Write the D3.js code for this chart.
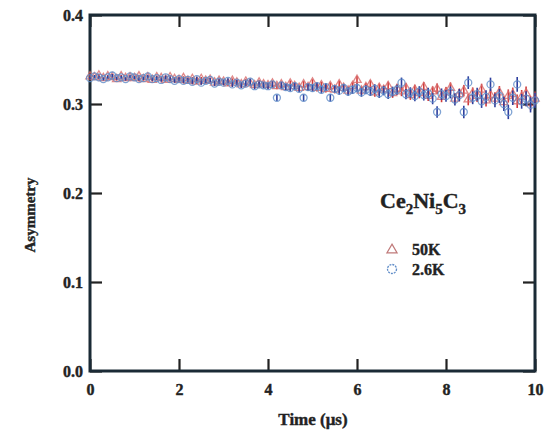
<!DOCTYPE html>
<html>
<head>
<meta charset="utf-8">
<script src="https://cdn.jsdelivr.net/npm/d3@7"></script>
<style>
  body { margin: 0; background: #fff; }
  svg { display: block; }
  text { font-family: "Liberation Serif", "Times New Roman", serif; font-weight: bold; fill: #222; stroke: #222; stroke-width: 0.4; }
</style>
</head>
<body>
<script>
'use strict';

// time points 0 .. 10 us, step 0.1
var times = d3.range(101).map(function(i) { return i / 10; });

var asym50K = [
	0.331,0.330,0.332,0.329,0.331,0.330,0.328,0.331,0.329,0.330,
	0.329,0.331,0.328,0.330,0.327,0.330,0.329,0.327,0.330,0.328,
	0.327,0.329,0.326,0.328,0.325,0.328,0.326,0.327,0.324,0.326,
	0.325,0.323,0.326,0.324,0.322,0.325,0.323,0.321,0.324,0.322,
	0.321,0.323,0.320,0.322,0.319,0.323,0.320,0.318,0.322,0.319,
	0.324,0.318,0.321,0.317,0.320,0.316,0.322,0.318,0.315,0.320,
	0.327,0.315,0.319,0.322,0.313,0.318,0.316,0.320,0.312,0.317,
	0.314,0.318,0.310,0.316,0.312,0.319,0.309,0.314,0.317,0.308,
	0.313,0.318,0.306,0.311,0.315,0.305,0.312,0.309,0.316,0.304,
	0.310,0.306,0.313,0.302,0.309,0.311,0.303,0.308,0.312,0.301,
	0.306
];
var err50K = [
	0.0015,0.0015,0.0016,0.0015,0.0016,0.0016,0.0017,0.0016,0.0017,0.0017,
	0.0018,0.0018,0.0019,0.0018,0.0019,0.0020,0.0019,0.0020,0.0021,0.0021,
	0.0022,0.0022,0.0023,0.0023,0.0024,0.0024,0.0025,0.0025,0.0026,0.0026,
	0.0027,0.0027,0.0028,0.0028,0.0029,0.0029,0.0030,0.0030,0.0031,0.0031,
	0.0032,0.0032,0.0033,0.0034,0.0034,0.0035,0.0035,0.0036,0.0037,0.0037,
	0.0038,0.0039,0.0039,0.0040,0.0041,0.0041,0.0042,0.0043,0.0043,0.0044,
	0.0045,0.0046,0.0046,0.0047,0.0048,0.0049,0.0049,0.0050,0.0051,0.0052,
	0.0052,0.0053,0.0054,0.0055,0.0056,0.0056,0.0057,0.0058,0.0059,0.0060,
	0.0061,0.0062,0.0062,0.0063,0.0064,0.0065,0.0066,0.0067,0.0068,0.0069,
	0.0070,0.0071,0.0072,0.0073,0.0074,0.0075,0.0076,0.0077,0.0078,0.0079,
	0.0080
];
var asym2K = [
	0.329,0.331,0.330,0.328,0.330,0.332,0.329,0.330,0.328,0.331,
	0.330,0.328,0.329,0.331,0.328,0.329,0.327,0.330,0.328,0.326,
	0.328,0.326,0.327,0.325,0.328,0.324,0.326,0.327,0.323,0.325,
	0.324,0.326,0.322,0.324,0.321,0.323,0.325,0.320,0.322,0.321,
	0.320,0.322,0.307,0.321,0.319,0.318,0.320,0.317,0.307,0.319,
	0.318,0.320,0.316,0.319,0.307,0.317,0.315,0.318,0.314,0.316,
	0.318,0.313,0.316,0.314,0.317,0.312,0.315,0.311,0.314,0.316,
	0.324,0.311,0.313,0.309,0.314,0.310,0.312,0.306,0.291,0.311,
	0.309,0.313,0.305,0.310,0.291,0.324,0.307,0.311,0.303,0.308,
	0.322,0.304,0.309,0.300,0.291,0.307,0.322,0.303,0.306,0.299,
	0.304
];
var err2K = [
	0.0016,0.0016,0.0017,0.0016,0.0017,0.0017,0.0018,0.0017,0.0018,0.0018,
	0.0019,0.0019,0.0020,0.0019,0.0020,0.0021,0.0020,0.0021,0.0022,0.0022,
	0.0023,0.0023,0.0024,0.0024,0.0025,0.0025,0.0026,0.0026,0.0027,0.0027,
	0.0028,0.0028,0.0029,0.0029,0.0030,0.0031,0.0031,0.0032,0.0032,0.0033,
	0.0034,0.0034,0.0035,0.0036,0.0036,0.0037,0.0038,0.0038,0.0039,0.0040,
	0.0040,0.0041,0.0042,0.0043,0.0043,0.0044,0.0045,0.0046,0.0046,0.0047,
	0.0048,0.0049,0.0050,0.0050,0.0051,0.0052,0.0053,0.0054,0.0055,0.0056,
	0.0057,0.0058,0.0058,0.0059,0.0060,0.0061,0.0062,0.0063,0.0064,0.0065,
	0.0066,0.0067,0.0068,0.0069,0.0070,0.0071,0.0072,0.0073,0.0074,0.0075,
	0.0076,0.0077,0.0078,0.0079,0.0080,0.0081,0.0082,0.0083,0.0084,0.0085,
	0.0086
];

var xTicks = [0, 2, 4, 6, 8, 10];
var yTicks = [0.0, 0.1, 0.2, 0.3, 0.4];

(function() {
	var width = 552, height = 431;
	var plotLeft = 90, plotRight = 535, plotTop = 15, plotBottom = 371;

	var svg = d3.select('body').append('svg')
		.attr('width', width).attr('height', height);

	var x = d3.scaleLinear().domain([0, 10]).range([plotLeft, plotRight]);
	var y = d3.scaleLinear().domain([0, 0.4]).range([plotBottom, plotTop]);

	var tickLen = 12;

	// axes: bottom / left with labels, top / right ticks only
	svg.append('g')
		.attr('transform', 'translate(0,' + plotBottom + ')')
		.call(d3.axisBottom(x).tickValues(xTicks).tickSize(-tickLen).tickPadding(13)
			.tickFormat(d3.format('d')))
		.call(function(g) {
			g.select('.domain').remove();
			g.selectAll('text').attr('font-size', 16).attr('font-family', 'Liberation Serif');
		});
	svg.append('g')
		.attr('transform', 'translate(' + plotLeft + ',0)')
		.call(d3.axisLeft(y).tickValues(yTicks).tickSize(-tickLen).tickPadding(7)
			.tickFormat(d3.format('.1f')))
		.call(function(g) {
			g.select('.domain').remove();
			g.selectAll('text').attr('font-size', 16).attr('font-family', 'Liberation Serif');
		});
	svg.append('g')
		.attr('transform', 'translate(0,' + plotTop + ')')
		.call(d3.axisTop(x).tickValues(xTicks).tickSize(-tickLen).tickFormat(''))
		.call(function(g) { g.select('.domain').remove(); });
	svg.append('g')
		.attr('transform', 'translate(' + plotRight + ',0)')
		.call(d3.axisRight(y).tickValues(yTicks).tickSize(-tickLen).tickFormat(''))
		.call(function(g) { g.select('.domain').remove(); });

	svg.selectAll('.tick line').attr('stroke', '#222').attr('stroke-width', 2.2);

	// frame
	svg.append('rect')
		.attr('x', plotLeft).attr('y', plotTop)
		.attr('width', plotRight - plotLeft).attr('height', plotBottom - plotTop)
		.attr('fill', 'none').attr('stroke', '#1a2a35').attr('stroke-width', 3);

	function series(vals, errs) {
		return times.map(function(t, i) { return {t: t, v: vals[i], e: errs[i]}; });
	}

	var triangle = d3.symbol().type(d3.symbolTriangle).size(30);

	function drawSeries(data, barColor, markColor, shape) {
		var g = svg.append('g');
		g.selectAll('line.eb').data(data).enter().append('line')
			.attr('x1', function(d) { return x(d.t); })
			.attr('x2', function(d) { return x(d.t); })
			.attr('y1', function(d) { return y(d.v - d.e); })
			.attr('y2', function(d) { return y(d.v + d.e); })
			.attr('stroke', barColor).attr('stroke-width', 1.6);
		if (shape === 'circle') {
			g.selectAll('circle').data(data).enter().append('circle')
				.attr('cx', function(d) { return x(d.t); })
				.attr('cy', function(d) { return y(d.v); })
				.attr('r', 3.5)
				.attr('fill', 'none').attr('stroke', markColor).attr('stroke-width', 1.3)
				.attr('opacity', 0.8);
		} else {
			g.selectAll('path').data(data).enter().append('path')
				.attr('d', triangle)
				.attr('transform', function(d) { return 'translate(' + x(d.t) + ',' + y(d.v) + ')'; })
				.attr('fill', 'none').attr('stroke', markColor).attr('stroke-width', 1.3)
				.attr('opacity', 0.8);
		}
	}

	drawSeries(series(asym50K, err50K), '#d03a3a', '#d86a6a', 'triangle');
	drawSeries(series(asym2K, err2K), '#2d3f9e', '#5f8cc8', 'circle');

	// legend
	var title = svg.append('text').attr('x', 380).attr('y', 208).attr('font-size', 22);
	title.append('tspan').text('Ce');
	title.append('tspan').attr('dy', 6).attr('font-size', 15).text('2');
	title.append('tspan').attr('dy', -6).text('Ni');
	title.append('tspan').attr('dy', 6).attr('font-size', 15).text('5');
	title.append('tspan').attr('dy', -6).text('C');
	title.append('tspan').attr('dy', 6).attr('font-size', 15).text('3');

	svg.append('path').attr('d', d3.symbol().type(d3.symbolTriangle).size(45))
		.attr('transform', 'translate(392,250)')
		.attr('fill', 'none').attr('stroke', '#c07a7a').attr('stroke-width', 1.2);
	svg.append('text').attr('x', 412).attr('y', 255).attr('font-size', 16).text('50K');
	svg.append('circle').attr('cx', 392).attr('cy', 269).attr('r', 4.5)
		.attr('fill', 'none').attr('stroke', '#5f8cc8').attr('stroke-width', 1.3)
		.attr('stroke-dasharray', '2,1');
	svg.append('text').attr('x', 412).attr('y', 275).attr('font-size', 16).text('2.6K');

	// axis titles
	svg.append('text')
		.attr('x', 313).attr('y', 425).attr('text-anchor', 'middle').attr('font-size', 17)
		.text('Time (\u03bcs)');
	svg.append('text')
		.attr('transform', 'translate(35,215) rotate(-90)')
		.attr('text-anchor', 'middle').attr('font-size', 15)
		.text('Asymmetry');
})();
</script>
</body>
</html>
